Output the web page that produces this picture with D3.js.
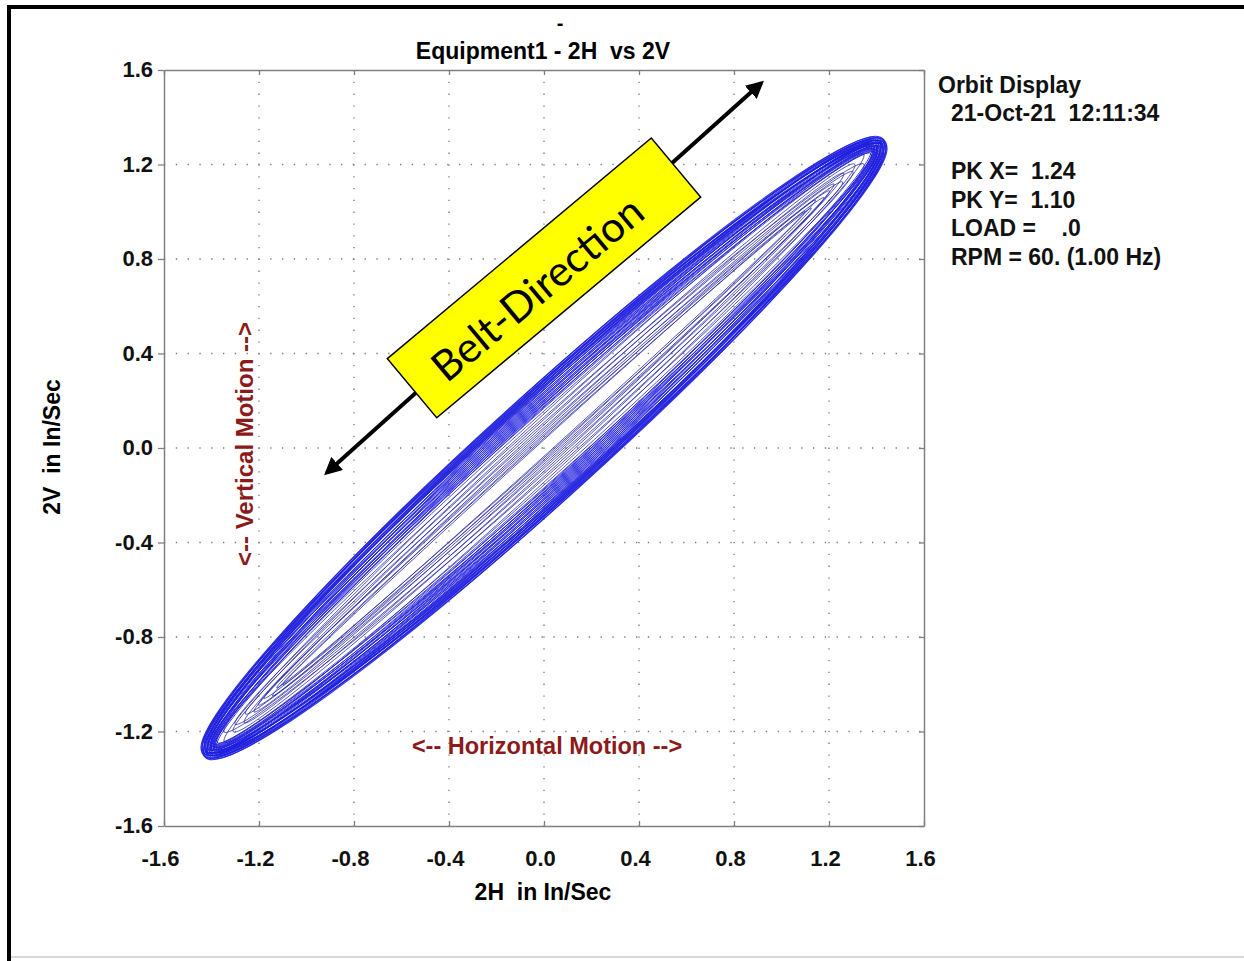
<!DOCTYPE html>
<html lang="en">
<head>
<meta charset="utf-8">
<script src="https://d3js.org/d3.v7.min.js"></script>
<style>
  body { margin: 0; background: #fff; }
  text { font-family: "Liberation Sans", Arial, sans-serif; font-weight: bold; white-space: pre; }
</style>
</head>
<body>
<div id="chart"></div>
<script>
// axis ticks
var xTicks = [-1.6, -1.2, -0.8, -0.4, 0.0, 0.4, 0.8, 1.2, 1.6];
var xTickLabels = ["-1.6", "-1.2", "-0.8", "-0.4", "0.0", "0.4", "0.8", "1.2", "1.6"];
var yTicks = [-1.6, -1.2, -0.8, -0.4, 0.0, 0.4, 0.8, 1.2, 1.6];
var yTickLabels = ["-1.6", "-1.2", "-0.8", "-0.4", "0.0", "0.4", "0.8", "1.2", "1.6"];

// orbit loops (in/sec): semi-major, semi-minor, tilt (deg)
// outer dense band
var denseMajor = [1.932, 1.931, 1.928, 1.927, 1.924, 1.921, 1.920, 1.917, 1.915, 1.913,
                  1.911, 1.910, 1.907, 1.905, 1.903, 1.902, 1.899, 1.897, 1.896, 1.893,
                  1.891, 1.890, 1.887, 1.886, 1.884, 1.881, 1.880, 1.878, 1.876, 1.873,
                  1.872, 1.870, 1.867, 1.866];
var denseMinor = [0.222, 0.220, 0.216, 0.214, 0.211, 0.208, 0.205, 0.203, 0.200, 0.197,
                  0.194, 0.191, 0.188, 0.186, 0.183, 0.180, 0.177, 0.174, 0.171, 0.168,
                  0.165, 0.162, 0.159, 0.156, 0.153, 0.150, 0.147, 0.144, 0.141, 0.138,
                  0.135, 0.132, 0.128, 0.125];
var denseTilt  = [42.1, 42.4, 41.8, 42.3, 41.9, 42.6, 41.7, 42.2, 42.5, 41.8,
                  42.3, 41.9, 42.6, 41.6, 42.2, 42.7, 41.8, 42.4, 41.9, 42.5,
                  41.7, 42.3, 42.0, 42.6, 41.7, 42.4, 41.9, 42.5, 41.8, 42.2,
                  42.6, 41.7, 42.3, 41.9];
// sparse inner loops
var innerMajor = [1.852, 1.828, 1.801, 1.772, 1.745, 1.712, 1.684, 1.651, 1.618, 1.582,
                  1.548, 1.512, 1.485];
var innerMinor = [0.116, 0.106, 0.097, 0.089, 0.080, 0.072, 0.064, 0.057, 0.050, 0.043,
                  0.037, 0.031, 0.026];
var innerTilt  = [42.0, 42.6, 41.6, 42.4, 41.8, 42.5, 41.7, 42.3, 42.0, 41.8,
                  42.4, 41.9, 42.2];
var orbitCenter = [0.0, 0.0];

var titleLines = ["-", "Equipment1 - 2H  vs 2V"];
var infoHeader = ["Orbit Display", "21-Oct-21  12:11:34"];
var infoLines = ["PK X=  1.24", "PK Y=  1.10", "LOAD =    .0", "RPM = 60. (1.00 Hz)"];
var xTitle = "2H  in In/Sec";
var yTitle = "2V  in In/Sec";
var hMotion = "<-- Horizontal Motion -->";
var vMotion = "<-- Vertical Motion -->";
var beltLabel = "Belt-Direction";
// belt arrow ends in chart units
var beltFrom = [-0.915, -0.105];
var beltTo = [0.915, 1.545];

var width = 1244, height = 961;
var plotLeft = 164, plotRight = 924, plotTop = 70, plotBottom = 826;

var svg = d3.select("#chart").append("svg")
    .attr("width", width).attr("height", height);

// page border (screenshot frame)
svg.append("rect").attr("x", 0).attr("y", 0).attr("width", width).attr("height", height).attr("fill", "#fff");
svg.append("line").attr("x1", 7).attr("x2", width).attr("y1", 7).attr("y2", 7)
    .attr("stroke", "#000").attr("stroke-width", 4);
svg.append("line").attr("x1", 9).attr("x2", 9).attr("y1", 5).attr("y2", height)
    .attr("stroke", "#000").attr("stroke-width", 4);
svg.append("line").attr("x1", 11).attr("x2", width).attr("y1", 957).attr("y2", 957)
    .attr("stroke", "#d8d8d8").attr("stroke-width", 2);

var xScale = d3.scaleLinear().domain([-1.6, 1.6]).range([plotLeft, plotRight]);
var yScale = d3.scaleLinear().domain([-1.6, 1.6]).range([plotBottom, plotTop]);

// dotted grid
svg.selectAll(".gv").data(xTicks.slice(1, -1)).enter().append("line")
    .attr("x1", xScale).attr("x2", xScale).attr("y1", plotTop).attr("y2", plotBottom)
    .attr("stroke", "#777").attr("stroke-width", 1.3).attr("stroke-dasharray", "1.3,10.5");
svg.selectAll(".gh").data(yTicks.slice(1, -1)).enter().append("line")
    .attr("y1", yScale).attr("y2", yScale).attr("x1", plotLeft).attr("x2", plotRight)
    .attr("stroke", "#777").attr("stroke-width", 1.3).attr("stroke-dasharray", "1.3,10.5");

// orbit trace
var cx = xScale(orbitCenter[0]), cy = yScale(orbitCenter[1]);
function drawLoops(major, minor, tilt, color, sw, op) {
    svg.append("g").selectAll("ellipse").data(major).enter().append("ellipse")
        .attr("cx", cx).attr("cy", cy)
        .attr("rx", function(d) { return xScale(d) - xScale(0); })
        .attr("ry", function(d, i) { return xScale(minor[i]) - xScale(0); })
        .attr("transform", function(d, i) { return "rotate(" + (-tilt[i]) + "," + cx + "," + cy + ")"; })
        .attr("fill", "none")
        .attr("stroke", color).attr("stroke-width", sw).attr("stroke-opacity", op);
}
drawLoops(innerMajor, innerMinor, innerTilt, "#2626a8", 0.85, 0.85);
// outer loops drawn heavier so the edge reads as a solid blue band
drawLoops(denseMajor, denseMinor, denseTilt, "#1e1ede",
    function(d, i) { return i < 12 ? 1.15 : 0.9; }, 0.88);

// axes
function styleAxis(g) {
    g.selectAll("path").attr("stroke", "#808080").attr("stroke-width", 1.5);
    g.selectAll("line").attr("stroke", "#808080").attr("stroke-width", 1.3);
    g.selectAll("text").attr("fill", "#111").style("font-size", "22px").style("font-family", "'Liberation Sans', Arial, sans-serif").style("font-weight", "bold");
}
svg.append("g").attr("transform", "translate(" + plotLeft + ",0)")
    .call(d3.axisLeft(yScale).tickValues(yTicks).tickFormat(function(d, i) { return yTickLabels[i]; })
        .tickSize(6).tickSizeOuter(0).tickPadding(5))
    .call(styleAxis)
    .selectAll("text").attr("dy", "0.3em");
svg.append("g").attr("transform", "translate(0," + plotBottom + ")")
    .call(d3.axisBottom(xScale).tickValues(xTicks).tickFormat(function(d, i) { return xTickLabels[i]; })
        .tickSize(-5).tickSizeOuter(0).tickPadding(24))
    .call(styleAxis)
    .selectAll("text").attr("dx", "-4");
svg.append("g").attr("transform", "translate(0," + plotTop + ")")
    .call(d3.axisTop(xScale).tickValues(xTicks).tickFormat("").tickSize(-5).tickSizeOuter(0))
    .call(styleAxis);
svg.append("g").attr("transform", "translate(" + plotRight + ",0)")
    .call(d3.axisRight(yScale).tickValues(yTicks).tickFormat("").tickSize(-5).tickSizeOuter(0))
    .call(styleAxis);

// titles
svg.append("text").attr("x", 560).attr("y", 30).attr("text-anchor", "middle")
    .style("font-size", "20px").text(titleLines[0]);
svg.append("text").attr("x", 543).attr("y", 59).attr("text-anchor", "middle")
    .style("font-size", "23px").text(titleLines[1]);
svg.append("text").attr("x", 543).attr("y", 900).attr("text-anchor", "middle")
    .style("font-size", "23px").text(xTitle);
svg.append("text").attr("transform", "translate(60,447) rotate(-90)").attr("text-anchor", "middle")
    .style("font-size", "23px").text(yTitle);

// info panel
svg.selectAll(".hdr").data(infoHeader).enter().append("text")
    .attr("x", function(d, i) { return i === 0 ? 938 : 951; })
    .attr("y", function(d, i) { return 93 + i * 28; })
    .style("font-size", "23px").attr("fill", "#111").text(function(d) { return d; });
svg.selectAll(".inf").data(infoLines).enter().append("text")
    .attr("x", 951).attr("y", function(d, i) { return 179 + i * 28.7; })
    .style("font-size", "23px").attr("fill", "#111").text(function(d) { return d; });

// motion labels
svg.append("text").attr("x", 547).attr("y", 754).attr("text-anchor", "middle")
    .attr("fill", "#8b1a1a").style("font-size", "23.5px").text(hMotion);
svg.append("text").attr("transform", "translate(253,444) rotate(-90)").attr("text-anchor", "middle")
    .attr("fill", "#8b1a1a").style("font-size", "24px").text(vMotion);

// belt direction arrow with label box
var defs = svg.append("defs");
["s", "e"].forEach(function(k) {
    defs.append("marker").attr("id", "arr" + k)
        .attr("viewBox", "0 0 10 10").attr("refX", 8).attr("refY", 5)
        .attr("markerWidth", 4.4).attr("markerHeight", 4.4)
        .attr("orient", k === "s" ? "auto-start-reverse" : "auto")
        .append("path").attr("d", "M0,0 L10,5 L0,10 Z").attr("fill", "#000");
});
var bx1 = xScale(beltFrom[0]), by1 = yScale(beltFrom[1]);
var bx2 = xScale(beltTo[0]), by2 = yScale(beltTo[1]);
svg.append("line").attr("x1", bx1).attr("y1", by1).attr("x2", bx2).attr("y2", by2)
    .attr("stroke", "#000").attr("stroke-width", 4)
    .attr("marker-start", "url(#arrs)").attr("marker-end", "url(#arre)");
var mx = (bx1 + bx2) / 2, my = (by1 + by2) / 2;
var ang = Math.atan2(by2 - by1, bx2 - bx1) * 180 / Math.PI + 2;
var box = svg.append("g").attr("transform", "translate(" + mx + "," + my + ") rotate(" + ang + ")");
box.append("rect").attr("x", -172).attr("y", -38.5).attr("width", 344).attr("height", 77)
    .attr("fill", "#ffff00").attr("stroke", "#000").attr("stroke-width", 1.5);
box.append("text").attr("x", -12).attr("y", 3).attr("text-anchor", "middle")
    .attr("dominant-baseline", "central")
    .style("font-family", "Lato, 'Open Sans', sans-serif").style("font-weight", "normal")
    .style("font-size", "42px").attr("fill", "#000").text(beltLabel);
</script>
</body>
</html>
